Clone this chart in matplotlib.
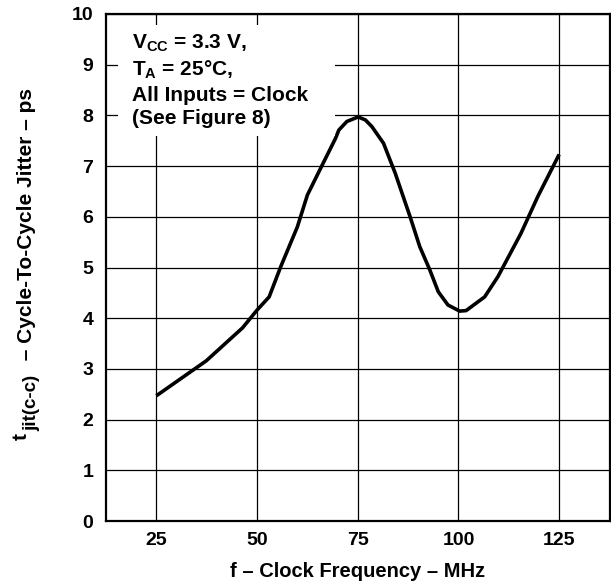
import matplotlib
matplotlib.use("Agg")
import matplotlib.pyplot as plt
from matplotlib.patches import Rectangle
import numpy as np

plt.rcParams['font.family'] = ['Liberation Sans', 'DejaVu Sans']
plt.rcParams['font.weight'] = 'bold'
plt.rcParams['mathtext.fontset'] = 'custom'
plt.rcParams['mathtext.rm'] = 'Liberation Sans:bold'
plt.rcParams['mathtext.it'] = 'Liberation Sans:bold'
plt.rcParams['mathtext.bf'] = 'Liberation Sans:bold'

# curve
freq = [25, 37.4, 46.4, 50, 53, 55.9, 60, 62.5, 65.8, 69.5, 70.3, 72.3, 75.1,
        76.9, 78.5, 81.4, 84.3, 88, 90.4, 92.9, 95, 97.4, 100.3, 101.9, 106.5,
        109.8, 115.5, 119.7, 125]
jitter = [2.47, 3.16, 3.81, 4.16, 4.42, 5.02, 5.80, 6.43, 6.96, 7.55, 7.71, 7.88, 7.97,
          7.91, 7.78, 7.45, 6.86, 6.0, 5.41, 4.95, 4.52, 4.26, 4.14, 4.15, 4.42,
          4.82, 5.67, 6.40, 7.23]

x_ticks = [25, 50, 75, 100, 125]
y_ticks = [0, 1, 2, 3, 4, 5, 6, 7, 8, 9, 10]

W, H = 611, 585
fig = plt.figure(figsize=(W / 100, H / 100), dpi=100)
ax = fig.add_axes([106 / W, 1 - 521 / H, 503.5 / W, 507 / H])

ax.plot(freq, jitter, color='black', lw=2.6, solid_capstyle='butt', zorder=3)

ax.set_xlim(12.5, 137.5)
ax.set_ylim(0, 10)
ax.set_xticks(x_ticks)
ax.set_yticks(y_ticks)
ax.grid(True, color='black', lw=0.9)
ax.tick_params(length=0, labelsize=14, pad=9)
ax.tick_params(axis='x', pad=8)
for s in ax.spines.values():
    s.set_linewidth(1.6)

ax.set_xlabel("f – Clock Frequency – MHz", fontsize=14.5, fontweight='bold', labelpad=9)

# y label built in pieces so the subscript can be large like in the original
fig.text(21 / W, 1 - 440 / H, "t", rotation=90, fontsize=15, fontweight='bold',
         ha='center', va='bottom')
fig.text(32 / W, 1 - 431 / H, "jit(c-c)", rotation=90, fontsize=13.5, fontweight='bold',
         ha='center', va='bottom')
fig.text(27 / W, 1 - 366 / H, " – Cycle-To-Cycle Jitter – ps", rotation=90, fontsize=15,
         fontweight='bold', ha='center', va='bottom')

# white panel behind the conditions note
ax.add_patch(Rectangle((0.0238, 0.759), 0.432, 0.219, transform=ax.transAxes,
                       facecolor='white', edgecolor='none', zorder=4))
note = ("$\\mathrm{V}_\\mathrm{CC}$ = 3.3 V,\n"
        "$\\mathrm{T}_\\mathrm{A}$ = 25°C,\n"
        "All Inputs = Clock\n"
        "(See Figure 8)")
ax.text(0.052, 0.963, note, transform=ax.transAxes, fontsize=15, fontweight='bold',
        va='top', ha='left', linespacing=1.3, zorder=5)

fig.savefig("out.png", dpi=100)
